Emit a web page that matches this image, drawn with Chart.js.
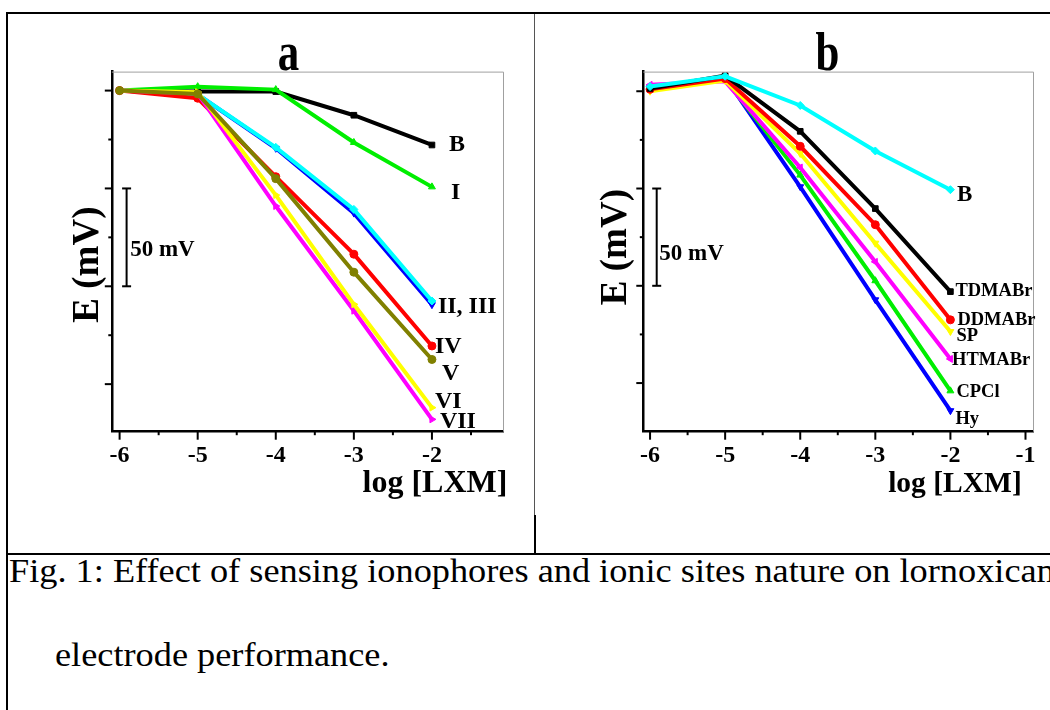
<!DOCTYPE html>
<html>
<head>
<meta charset="utf-8">
<script src="https://cdn.jsdelivr.net/npm/chart.js@4.4.1/dist/chart.umd.min.js"></script>
<style>
  body { margin: 0; background: #fff; }
  #page { position: relative; width: 1050px; height: 710px; overflow: hidden; background: #fff; }
  canvas { position: absolute; }
  #ca { left: 8px; top: 14px; }
  #cb { left: 536px; top: 14px; }
  .ln { position: absolute; background: #000; }
  .cap { position: absolute; font-family: "Liberation Serif", "Times New Roman", serif; font-size: 33px; line-height: 33px;
         white-space: nowrap; transform-origin: 0 0; transform: scaleX(1.1); color: #000; }
</style>
</head>
<body>
<div id="page">
  <canvas id="ca" width="526" height="538"></canvas>
  <canvas id="cb" width="514" height="538"></canvas>
  <div class="ln" style="left:6px;top:12px;width:1044px;height:2px"></div>
  <div class="ln" style="left:6px;top:12px;width:2px;height:698px"></div>
  <div class="ln" style="left:534px;top:14px;width:1px;height:501px;background:#555"></div>
  <div class="ln" style="left:534px;top:515px;width:2px;height:39px"></div>
  <div class="ln" style="left:6px;top:553px;width:1044px;height:2px"></div>
  <div class="cap" style="left:9px;top:555px">Fig. 1: Effect of sensing ionophores and ionic sites nature on lornoxicam</div>
  <div class="cap" style="left:55px;top:639px">electrode performance.</div>
</div>
<script>
// log [LXM] values
const xVals = [-6, -5, -4, -3, -2];
const xTicksA = [-6, -5, -4, -3, -2];
const xTicksB = [-6, -5, -4, -3, -2, -1];
// E (mV), relative, no labels on the axis
const yMajor = [0, -50, -100, -150];
const yMinor = [-25, -75, -125];
const barMV = [-50, -100];

// panel a
const aB   = [0, -0.5, -0.5, -12.6, -27.8];
const aI   = [0, 2, 0.5, -26.5, -49.2];
const aII  = [0, -2, -29.5, -62.6, -109.4];
const aIII = [0, -2, -29, -60.7, -107.5];
const aIV  = [0, -3.9, -44, -83.6, -130.5];
const aV   = [0, -1.7, -45, -92.8, -137.4];
const aVI  = [0, -0.8, -53.4, -109.2, -162];
const aVII = [0, -1.5, -59, -112.5, -168];

// panel b
const bB      = [2.4, 7.7, -7.3, -30.7, -50.6];
const bTDMABr = [1.4, 8, -20.6, -60.3, -103];
const bDDMABr = [1, 6.5, -28.3, -68.6, -117.5];
const bSP     = [0, 5.5, -32, -78.1, -123.5];
const bHTMABr = [3.3, 5.1, -39.2, -87.7, -137.6];
const bCPCl   = [1, 6, -43.1, -97.4, -154];
const bHy     = [1.8, 7, -49.1, -107.2, -164.2];

const FONT = '"Liberation Serif", "Times New Roman", serif';

function pts(ys) {
  return xVals.map((x, i) => ({ x: x, y: ys[i] }));
}

function curve(data, color, shape, rot, order, tag) {
  return {
    data: pts(data),
    borderColor: color,
    backgroundColor: color,
    borderWidth: 4,
    tension: 0,
    order: order,
    pointStyle: shape,
    pointRotation: rot,
    pointRadius: 4,
    pointBorderWidth: 1,
    pointBackgroundColor: color,
    pointBorderColor: color,
    tag: tag
  };
}

function put(ctx, str, x, y, font, align, base, sc, rot) {
  ctx.save();
  ctx.translate(x, y);
  if (rot) ctx.rotate(rot);
  ctx.scale(sc || 1, 1);
  ctx.font = font;
  ctx.textAlign = align;
  ctx.textBaseline = base;
  ctx.fillStyle = '#000';
  ctx.fillText(str, 0, 0);
  ctx.restore();
}

// frame, ticks, scale bar and texts
function deco(cfg) {
  return {
    id: 'deco',
    afterDraw(chart) {
      const ctx = chart.ctx, ca = chart.chartArea;
      const sx = chart.scales.x, sy = chart.scales.y;
      ctx.save();
      ctx.strokeStyle = '#a0a0a0';
      ctx.lineWidth = 1;
      ctx.beginPath();
      ctx.moveTo(ca.left, ca.top + 0.5);
      ctx.lineTo(ca.right + 0.5, ca.top + 0.5);
      ctx.lineTo(ca.right + 0.5, ca.bottom);
      ctx.stroke();

      ctx.strokeStyle = '#000';
      ctx.lineWidth = 2;
      const seg = (x1, y1, x2, y2) => {
        ctx.beginPath(); ctx.moveTo(x1, y1); ctx.lineTo(x2, y2); ctx.stroke();
      };
      cfg.xTicks.forEach(v => {
        const p = sx.getPixelForValue(v);
        seg(p, ca.bottom, p, ca.bottom + 8);
        if (v + 0.5 < sx.max) {
          const q = sx.getPixelForValue(v + 0.5);
          seg(q, ca.bottom, q, ca.bottom + 3.5);
        }
      });
      yMajor.forEach(v => { const p = sy.getPixelForValue(v); seg(ca.left - 7, p, ca.left, p); });
      yMinor.forEach(v => { const p = sy.getPixelForValue(v); seg(ca.left - 3.5, p, ca.left, p); });

      // 50 mV bar
      const bx = ca.left + cfg.bar.dx;
      const b1 = sy.getPixelForValue(barMV[0]), b2 = sy.getPixelForValue(barMV[1]);
      seg(bx, b1, bx, b2);
      seg(bx - 4.5, b1, bx + 4.5, b1);
      seg(bx - 4.5, b2, bx + 4.5, b2);
      put(ctx, '50 mV', bx + cfg.bar.tx, (b1 + b2) / 2 + cfg.bar.ty, 'bold 23px ' + FONT, 'left', 'middle');

      // titles
      put(ctx, cfg.title, ca.left + cfg.titleX, ca.top - 1.6, 'bold 55px ' + FONT, 'center', 'alphabetic', 0.78);
      put(ctx, 'E (mV)', ca.left + cfg.yTitle[0], ca.top + cfg.yTitle[1], 'bold 37px ' + FONT, 'center', 'alphabetic', 1, -Math.PI / 2);
      put(ctx, 'log [LXM]', ca.right + cfg.xTitle[0], ca.bottom + cfg.xTitle[1], 'bold ' + cfg.xTitle[2] + 'px ' + FONT, 'right', 'alphabetic');

      // curve names at the last point
      chart.data.datasets.forEach((ds, i) => {
        if (!ds.tag) return;
        const pts = chart.getDatasetMeta(i).data;
        const last = pts[pts.length - 1];
        put(ctx, ds.tag.text, last.x + ds.tag.dx, last.y + ds.tag.dy, 'bold ' + ds.tag.size + 'px ' + FONT, 'left', 'middle');
      });
      ctx.restore();
    }
  };
}

function scales(xr, yr, xTicks, yW) {
  return {
    x: {
      type: 'linear', min: xr[0], max: xr[1],
      afterBuildTicks: s => { s.ticks = xTicks.map(v => ({ value: v })); },
      afterFit: s => { s.height = 120.3; s.paddingLeft = 0; s.paddingRight = 0; },
      grid: { drawOnChartArea: false, drawTicks: false },
      border: { color: '#000', width: 2.5 },
      ticks: {
        color: '#000', padding: 10, maxRotation: 0, autoSkip: false,
        font: { family: FONT, size: 24, weight: 'bold' },
        callback: v => String(v)
      }
    },
    y: {
      type: 'linear', min: yr[0], max: yr[1],
      afterFit: s => { s.width = yW; },
      grid: { drawOnChartArea: false, drawTicks: false },
      border: { color: '#000', width: 2.5 },
      ticks: { display: false }
    }
  };
}

const common = {
  responsive: false,
  animation: false,
  plugins: { legend: { display: false }, tooltip: { enabled: false } }
};

new Chart(document.getElementById('ca'), {
  type: 'line',
  data: {
    datasets: [
      curve(aB, '#000000', 'rect', 0, 8, { text: 'B', dx: 17, dy: 0, size: 24 }),
      curve(aI, '#00ee00', 'triangle', 0, 7, { text: 'I', dx: 19, dy: 6, size: 24 }),
      curve(aII, '#0000ff', 'triangle', 180, 6, { text: 'II, III', dx: 6, dy: 2, size: 24 }),
      curve(aIII, '#00ffff', 'rectRot', 0, 5, null),
      curve(aIV, '#ff0000', 'circle', 0, 4, { text: 'IV', dx: 3, dy: 1, size: 24 }),
      curve(aV, '#808000', 'circle', 0, 1, { text: 'V', dx: 10, dy: 14, size: 24 }),
      curve(aVI, '#ffff00', 'triangle', 90, 2, { text: 'VI', dx: 3, dy: -6, size: 24 }),
      curve(aVII, '#ff00ff', 'triangle', 90, 3, { text: 'VII', dx: 8, dy: 2.5, size: 24 })
    ]
  },
  options: Object.assign({}, common, {
    layout: { padding: { top: 57.6, right: 31, left: 0, bottom: 0 } },
    scales: scales([-6.1, -1.09], [-174.3, 9.7], xTicksA, 103.8)
  }),
  plugins: [deco({
    title: 'a', titleX: 176.7, xTicks: xTicksA,
    yTitle: [-13.8, 193], xTitle: [4.4, 60, 32],
    bar: { dx: 14.8, tx: 3.6, ty: 12.5 }
  })]
});

new Chart(document.getElementById('cb'), {
  type: 'line',
  data: {
    datasets: [
      curve(bB, '#00ffff', 'rectRot', 0, 1, { text: 'B', dx: 6.7, dy: 5, size: 23 }),
      curve(bTDMABr, '#000000', 'rect', 0, 2, { text: 'TDMABr', dx: 5, dy: 0, size: 18.5 }),
      curve(bDDMABr, '#ff0000', 'circle', 0, 3, { text: 'DDMABr', dx: 7, dy: 0.7, size: 18.5 }),
      curve(bSP, '#ffff00', 'triangle', 180, 4, { text: 'SP', dx: 6, dy: 4.5, size: 18.5 }),
      curve(bHTMABr, '#ff00ff', 'triangle', 270, 5, { text: 'HTMABr', dx: 1.7, dy: 1, size: 18.5 }),
      curve(bCPCl, '#00ee00', 'triangle', 0, 6, { text: 'CPCl', dx: 6, dy: 1, size: 18.5 }),
      curve(bHy, '#0000ff', 'triangle', 180, 7, { text: 'Hy', dx: 5, dy: 8.7, size: 18.5 })
    ]
  },
  options: Object.assign({}, common, {
    layout: { padding: { top: 57.6, right: 17, left: 0, bottom: 0 } },
    scales: scales([-6.09, -0.9], [-175, 10.1], xTicksB, 107.3)
  }),
  plugins: [deco({
    title: 'b', titleX: 184.2, xTicks: xTicksB,
    yTitle: [-17.3, 175.5], xTitle: [-11.3, 60.5, 29.5],
    bar: { dx: 13.4, tx: 2.6, ty: 17 }
  })]
});
</script>
</body>
</html>
